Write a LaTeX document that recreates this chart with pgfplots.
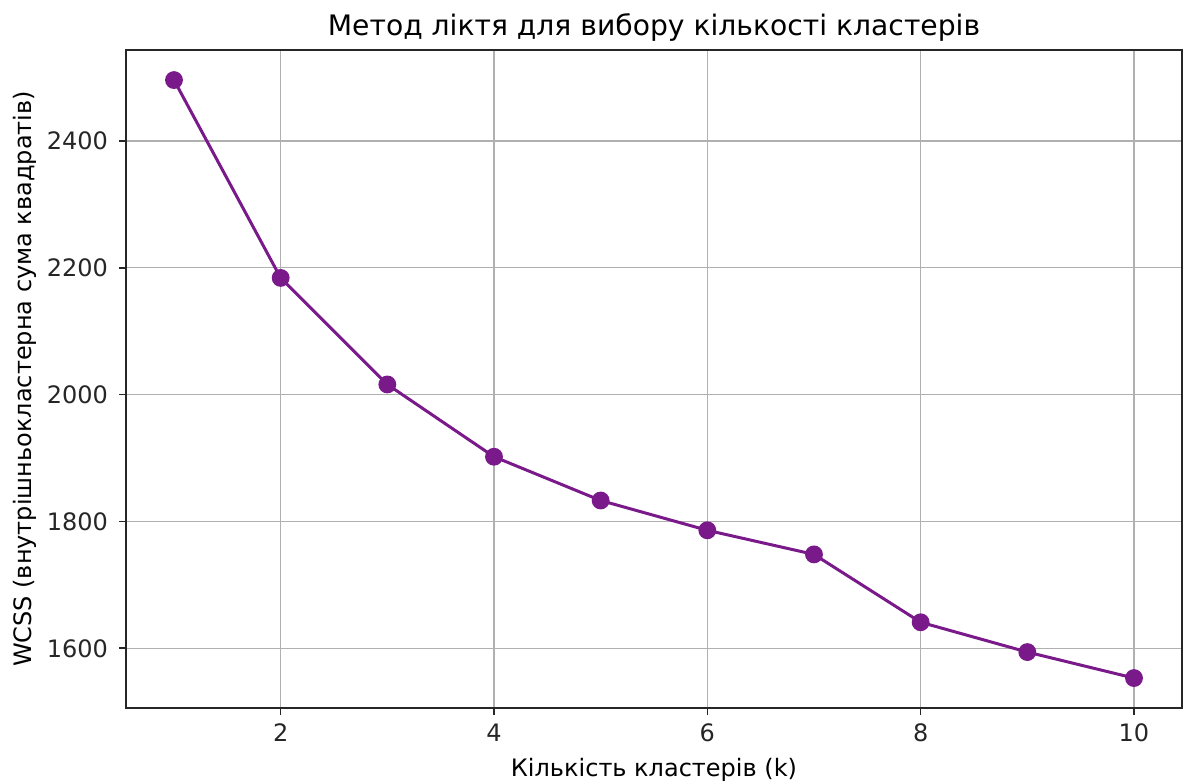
\documentclass[border=0pt]{standalone}
\usepackage{pgfplots}
\pgfplotsset{compat=1.18}
\usepackage{fontspec}
\setmainfont{DejaVu Sans}
\definecolor{lineP}{RGB}{122,26,138}
\definecolor{gridG}{RGB}{176,176,176}
\begin{document}
\begin{tikzpicture}
\useasboundingbox (-63pt,-37.5pt) rectangle (529pt,354pt);
\begin{axis}[
  at={(0,0)}, anchor=south west,
  scale only axis, width=528pt, height=329pt,
  xmin=0.55, xmax=10.45, ymin=1505.8, ymax=2543.4,
  xtick={2,4,6,8,10}, ytick={1600,1800,2000,2200,2400},
  tick pos=left,
  grid=major,
  major grid style={gridG, line width=0.6pt},
  axis line style={black!85, line width=0.8pt},
  tick align=outside, major tick length=3.5pt,
  tick style={black!85, line width=0.8pt},
  every tick label/.append style={font=\fontsize{12}{14}\selectfont, text=black!85},
  /pgf/number format/assume math mode=true,
  /pgf/number format/set thousands separator={},
  xticklabel style={yshift=-1pt},
  yticklabel style={xshift=-2pt},
  title={Метод ліктя для вибору кількості кластерів},
  title style={at={(axis description cs:0.5,1.0167)}, anchor=center, font=\fontsize{14.1}{17}\selectfont},
  xlabel={Кількість кластерів (k)},
  xlabel style={at={(axis description cs:0.5,-0.0942)}, anchor=center, font=\fontsize{12}{14}\selectfont},
  ylabel={WCSS (внутрішньокластерна сума квадратів)},
  ylabel style={at={(axis description cs:-0.0956,0.5)}, anchor=center, rotate=0, font=\fontsize{12}{14}\selectfont},
]
\addplot[color=lineP, line width=1.5pt, mark=*, mark size=3.7pt, mark options={fill=lineP, draw=lineP}]
coordinates {
(1,2496) (2,2184) (3,2016) (4,1902) (5,1833) (6,1786) (7,1748) (8,1641) (9,1594) (10,1553)
};
\end{axis}
\end{tikzpicture}
\end{document}
